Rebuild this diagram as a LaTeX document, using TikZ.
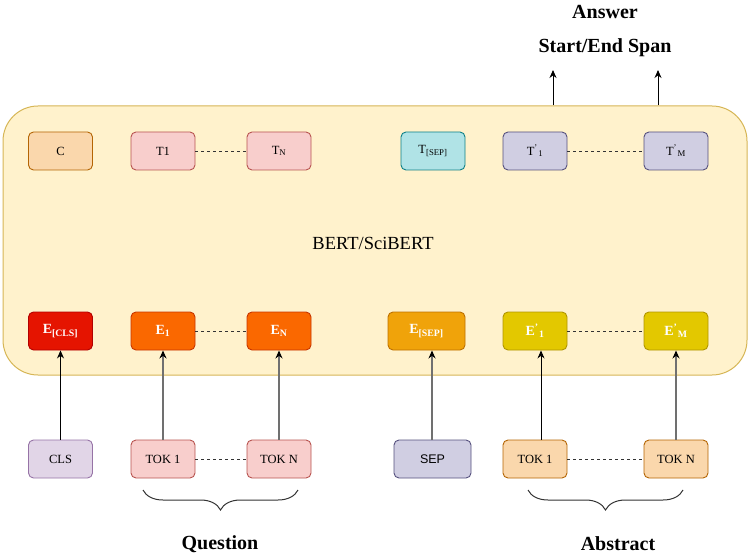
\documentclass[tikz,border=0pt]{standalone}
\usepackage{fontspec}
\setmainfont{Liberation Serif}
\setsansfont{Liberation Sans}
\usetikzlibrary{arrows.meta,decorations.pathreplacing}
\definecolor{bertfill}{HTML}{FFF2CC}\definecolor{bertdraw}{HTML}{D6B656}
\definecolor{orfill}{HTML}{FAD7AC}\definecolor{ordraw}{HTML}{B46504}
\definecolor{rdfill}{HTML}{F8CECC}\definecolor{rddraw}{HTML}{B85450}
\definecolor{tlfill}{HTML}{B0E3E6}\definecolor{tldraw}{HTML}{0E8088}
\definecolor{pufill}{HTML}{D0CEE2}\definecolor{pudraw}{HTML}{56517E}
\definecolor{lvfill}{HTML}{E1D5E7}\definecolor{lvdraw}{HTML}{9673A6}
\definecolor{redfill}{HTML}{E51400}\definecolor{reddraw}{HTML}{B20000}
\definecolor{orgfill}{HTML}{FA6800}\definecolor{orgdraw}{HTML}{C73500}
\definecolor{ambfill}{HTML}{F0A30A}\definecolor{ambdraw}{HTML}{BD7000}
\definecolor{yelfill}{HTML}{E3C800}\definecolor{yeldraw}{HTML}{B09500}
\definecolor{arrgray}{HTML}{707070}
\newcommand\supsub[2]{\textsuperscript{#1}\kern0.5pt\textsubscript{#2}}
\tikzset{
  box/.style={draw, rounded corners=5pt, line width=0.9pt, minimum width=64pt, minimum height=38pt,
    inner sep=0pt, font=\fontsize{12.5}{14}\selectfont},
  ebox/.style={box, text=white, font=\fontsize{14}{16}\selectfont\bfseries},
  dots/.style={dashed, line width=0.9pt, black!80},
  uparr/.style={-{Stealth[length=8pt,width=7pt,black]}, line width=0.9pt},
  uparrg/.style={-{Stealth[length=8pt,width=7pt,black]}, line width=1.8pt, draw=arrgray},
  brace/.style={decorate, decoration={brace, mirror, amplitude=20pt}, line width=1pt, black!80},
  lbl/.style={font=\fontsize{20}{24}\selectfont\bfseries}
}
\begin{document}
\begin{tikzpicture}[x=1pt,y=-1pt]
\useasboundingbox (0,0) rectangle (749,556);
\node[draw=bertdraw, fill=bertfill, rounded corners=35pt, line width=1pt, minimum width=744pt, minimum height=269pt] (bert) at (375,240.5) {};
\node[font=\fontsize{18.5}{22}\selectfont] (bertlbl) at (373,243) {BERT/SciBERT};
% top row
\node[box, fill=orfill, draw=ordraw] (C) at (60.5,151) {C};
\node[box, fill=rdfill, draw=rddraw] (T1) at (163,151) {T1};
\node[box, fill=rdfill, draw=rddraw] (TN) at (279,151) {T\textsubscript{N}};
\node[box, fill=tlfill, draw=tldraw] (TS) at (433,151) {T\textsubscript{[SEP]}};
\node[box, fill=pufill, draw=pudraw] (Tp1) at (535,151) {T\supsub{'}{1}};
\node[box, fill=pufill, draw=pudraw] (TpM) at (676,151) {T\supsub{'}{M}};
% embedding row
\node[ebox, fill=redfill, draw=reddraw] (ECLS) at (60.5,331) {E\textsubscript{[CLS]}};
\node[ebox, fill=orgfill, draw=orgdraw] (E1) at (163,331) {E\textsubscript{1}};
\node[ebox, fill=orgfill, draw=orgdraw] (EN) at (279,331) {E\textsubscript{N}};
\node[ebox, fill=ambfill, draw=ambdraw, minimum width=77pt] (ES) at (426.5,331) {E\textsubscript{[SEP]}};
\node[ebox, fill=yelfill, draw=yeldraw] (Ep1) at (535,331) {E\supsub{'}{1}};
\node[ebox, fill=yelfill, draw=yeldraw] (EpM) at (676,331) {E\supsub{'}{M}};
% token row
\node[box, fill=lvfill, draw=lvdraw] (CLS) at (60.5,459) {CLS};
\node[box, fill=rdfill, draw=rddraw] (Q1) at (163,459) {TOK 1};
\node[box, fill=rdfill, draw=rddraw] (QN) at (279,459) {TOK N};
\node[box, fill=pufill, draw=pudraw, minimum width=77pt, font=\fontsize{12.5}{14}\selectfont\sffamily] (SEP) at (432.5,459) {SEP};
\node[box, fill=orfill, draw=ordraw] (A1) at (535,459) {TOK 1};
\node[box, fill=orfill, draw=ordraw] (AN) at (676,459) {TOK N};
% dashed links
\draw[dots] (T1) -- (TN);
\draw[dots] (Tp1) -- (TpM);
\draw[dots] (E1) -- (EN);
\draw[dots] (Ep1) -- (EpM);
\draw[dots] (Q1) -- (QN);
\draw[dots] (A1) -- (AN);
% arrows tokens -> embeddings
\draw[uparr] (CLS) -- (ECLS);
\draw[uparrg] (Q1) -- (E1);
\draw[uparrg] (QN) -- (EN);
\draw[uparrg] (SEP.north -| 432,0) -- (ES.south -| 432,0);
\draw[uparr] (A1.north -| 541,0) -- (Ep1.south -| 541,0);
\draw[uparrg] (AN) -- (EpM);
% output arrows
\coordinate (o1) at (553,70);
\coordinate (o2) at (658,70);
\draw[uparr] (bert.north -| o1) -- (o1);
\draw[uparr] (bert.north -| o2) -- (o2);
\node[lbl] (ans) at (605,12) {Answer};
\node[lbl] (span) at (605,48) {Start/End Span};
% braces
\coordinate (qb1) at (143,490); \coordinate (qb2) at (298,490);
\coordinate (ab1) at (528,490); \coordinate (ab2) at (683,490);
\draw[brace] (qb1) -- (qb2);
\draw[brace] (ab1) -- (ab2);
\node[lbl] (q) at (220,544) {Question};
\node[lbl] (a) at (618,544) {Abstract};
\end{tikzpicture}
\end{document}
